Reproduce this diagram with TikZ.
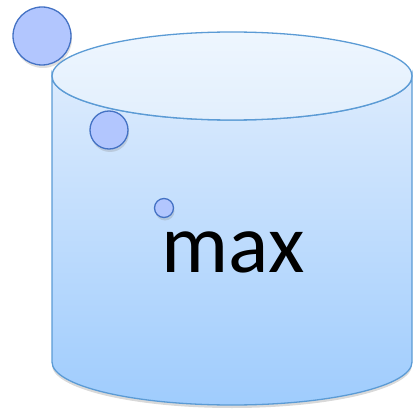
\documentclass[tikz,border=0pt]{standalone}
\usepackage{fontspec}
\setmainfont{Carlito}
\usetikzlibrary{shadows}
\definecolor{rimblue}{HTML}{5B9BD5}
\definecolor{lidtop}{HTML}{EEF6FE}
\definecolor{lidbot}{HTML}{E2EFFD}
\definecolor{bodytop}{HTML}{DCEBFD}
\definecolor{bodybot}{HTML}{9FCCFD}
\definecolor{ballfill}{HTML}{B2C6FE}
\definecolor{ballrim}{HTML}{4472C4}
\tikzset{
  ball/.style={circle,draw=ballrim,line width=1.3pt,fill=ballfill,inner sep=0pt,
    drop shadow={shadow xshift=1pt,shadow yshift=-3pt,opacity=0.25}},
}
\begin{document}
\begin{tikzpicture}[x=1pt,y=-1pt,line width=1.3pt]
\useasboundingbox (0,0) rectangle (415,409);
\coordinate (T) at (232,76);
\coordinate (B) at (232,362);
% body of the tub
\shade[top color=bodytop,bottom color=bodybot,draw=rimblue,
  drop shadow={shadow xshift=0pt,shadow yshift=-3pt,opacity=0.3}]
  (52,76) -- (52,362) arc[start angle=180, end angle=0, x radius=180, y radius=43]
  -- (412,76) arc[start angle=0, end angle=180, x radius=180, y radius=44] -- cycle;
% lid
\shade[top color=lidtop,bottom color=lidbot,draw=rimblue]
  (T) ellipse[x radius=180, y radius=44];
\node[font=\fontsize{84}{84}\selectfont] (lbl) at (233,252) {max};
\node[ball,minimum size=58pt] (b1) at (42,36) {};
\node[ball,minimum size=38pt] (b2) at (109,130) {};
\node[ball,minimum size=19pt] (b3) at (164,208) {};
\end{tikzpicture}
\end{document}
